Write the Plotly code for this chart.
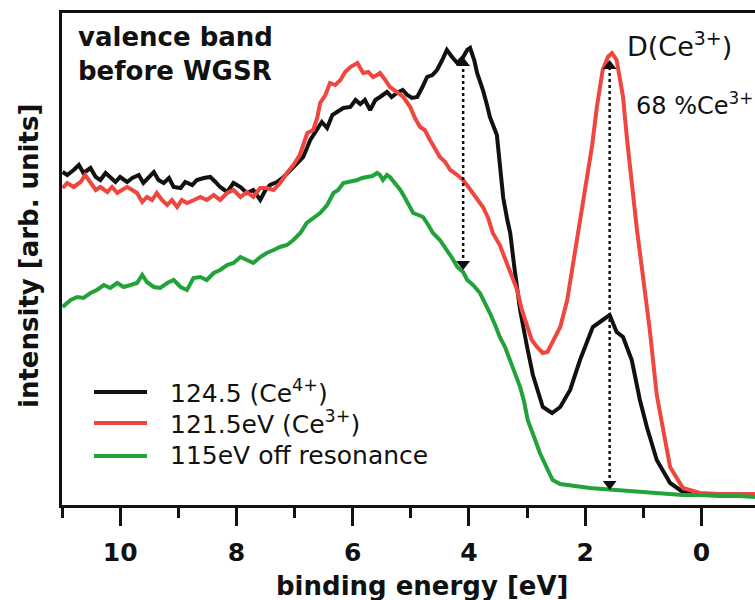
import plotly.graph_objects as go

# ---------------- data (binding energy in eV, intensity in arb. units) ----------------
black_energy = [10.99, 10.91, 10.80, 10.71, 10.63, 10.51, 10.42, 10.34, 10.25, 10.17, 10.08, 10.00,
                9.88, 9.79, 9.68, 9.60, 9.51, 9.42, 9.34, 9.25, 9.16, 9.08, 8.96, 8.88, 8.76, 8.68,
                8.56, 8.45, 8.36, 8.28, 8.16, 8.05, 7.93, 7.82, 7.71, 7.59, 7.50, 7.42, 7.30, 7.19,
                7.07, 6.96, 6.85, 6.73, 6.61, 6.53, 6.44, 6.35, 6.27, 6.16, 6.04, 5.95, 5.87, 5.79,
                5.70, 5.61, 5.53, 5.41, 5.33, 5.24, 5.14, 5.06, 4.98, 4.89, 4.80, 4.72, 4.63, 4.55,
                4.46, 4.38, 4.29, 4.20, 4.10, 4.03, 3.98, 3.91, 3.86, 3.76, 3.69, 3.64, 3.52, 3.47,
                3.41, 3.34, 3.29, 3.22, 3.12, 3.00, 2.90, 2.73, 2.57, 2.43, 2.26, 2.09, 1.87, 1.70,
                1.58, 1.46, 1.35, 1.20, 1.06, 0.94, 0.77, 0.54, 0.32, 0.03, -0.31, -0.66, -0.92]
black_intensity = [333, 330, 335, 340, 332, 337, 328, 325, 332, 328, 323, 328,
                   323, 327, 330, 322, 327, 333, 325, 322, 327, 318, 317, 323, 320, 325,
                   327, 328, 323, 318, 313, 322, 318, 312, 315, 305, 315, 320, 323, 328,
                   335, 342, 348, 365, 375, 383, 377, 390, 393, 397, 398, 405, 401, 405,
                   395, 405, 408, 413, 408, 412, 415, 410, 407, 408, 418, 428, 430, 435,
                   445, 455, 448, 442, 448, 455, 457, 445, 432, 415, 400, 388, 370, 342,
                   307, 285, 272, 238, 195, 158, 130, 98, 92, 98, 115, 145, 178, 185,
                   190, 173, 168, 145, 105, 78, 45, 22, 13, 11, 11, 10, 10]

red_energy = [10.99, 10.91, 10.80, 10.68, 10.60, 10.51, 10.42, 10.34, 10.22, 10.14, 10.05, 9.97,
              9.88, 9.79, 9.71, 9.62, 9.54, 9.45, 9.37, 9.28, 9.19, 9.11, 9.02, 8.94, 8.85, 8.73,
              8.62, 8.51, 8.39, 8.28, 8.16, 8.05, 7.93, 7.82, 7.71, 7.59, 7.48, 7.36, 7.25, 7.13,
              7.02, 6.91, 6.78, 6.68, 6.61, 6.56, 6.47, 6.39, 6.30, 6.21, 6.13, 6.04, 5.92, 5.87,
              5.82, 5.73, 5.65, 5.58, 5.53, 5.44, 5.36, 5.24, 5.13, 5.01, 4.93, 4.84, 4.76, 4.67,
              4.58, 4.50, 4.41, 4.32, 4.20, 4.10, 4.01, 3.93, 3.84, 3.76, 3.67, 3.59, 3.47, 3.35,
              3.26, 3.17, 3.09, 3.00, 2.92, 2.83, 2.73, 2.65, 2.55, 2.43, 2.31, 2.21, 2.09, 1.97,
              1.88, 1.80, 1.70, 1.61, 1.54, 1.46, 1.40, 1.35, 1.28, 1.18, 1.11, 1.01, 0.89, 0.77,
              0.66, 0.54, 0.32, 0.03, -0.31, -0.66, -0.92]
red_intensity = [317, 322, 318, 323, 330, 322, 315, 318, 313, 318, 312, 315,
                 318, 315, 312, 303, 308, 305, 312, 305, 300, 305, 298, 305, 302, 305,
                 308, 305, 310, 305, 312, 315, 308, 313, 308, 317, 317, 315, 322, 332,
                 340, 350, 372, 375, 387, 402, 410, 422, 420, 425, 433, 438, 442, 437,
                 432, 433, 428, 430, 432, 425, 418, 413, 408, 398, 387, 378, 375, 365,
                 355, 348, 343, 335, 330, 325, 318, 312, 305, 298, 287, 272, 260, 242,
                 230, 215, 195, 178, 165, 158, 152, 153, 165, 178, 205, 240, 285, 325,
                 360, 398, 435, 448, 452, 445, 425, 408, 365, 310, 275, 230, 175, 110,
                 75, 38, 17, 12, 11, 11, 11]

green_energy = [10.99, 10.85, 10.74, 10.63, 10.51, 10.40, 10.28, 10.17, 10.05, 9.94, 9.82, 9.71,
                9.62, 9.54, 9.42, 9.31, 9.19, 9.08, 8.96, 8.85, 8.74, 8.62, 8.51, 8.39, 8.28, 8.16,
                8.05, 7.93, 7.82, 7.71, 7.59, 7.48, 7.36, 7.25, 7.13, 7.02, 6.90, 6.79, 6.56, 6.44,
                6.33, 6.25, 6.16, 6.04, 5.92, 5.84, 5.75, 5.66, 5.58, 5.53, 5.48, 5.41, 5.36, 5.27,
                5.18, 5.10, 5.01, 4.96, 4.87, 4.79, 4.70, 4.62, 4.50, 4.38, 4.29, 4.20, 4.10, 4.03,
                3.93, 3.81, 3.72, 3.64, 3.55, 3.47, 3.38, 3.29, 3.21, 3.12, 3.05, 2.99, 2.88, 2.78,
                2.66, 2.56, 2.43, 2.31, 2.09, 1.92, 1.70, 1.46, 1.15, 0.89, 0.63, 0.32, 0.03, -0.31,
                -0.66, -0.92]
green_intensity = [198, 205, 208, 207, 212, 215, 220, 217, 222, 218, 220, 222,
                   230, 223, 218, 217, 222, 225, 218, 215, 227, 228, 225, 232, 235, 240,
                   242, 248, 245, 242, 248, 252, 255, 258, 260, 265, 272, 282, 292, 300,
                   312, 315, 322, 323, 325, 327, 328, 329, 332, 330, 325, 330, 328, 322,
                   315, 307, 298, 292, 290, 288, 280, 272, 265, 255, 247, 238, 233, 225,
                   220, 212, 202, 192, 180, 168, 158, 145, 133, 118, 103, 85, 68, 52,
                   37, 25, 21, 20, 18, 17, 16, 15, 14, 12, 11, 10, 10, 9,
                   9, 8]

series_names = ["124.5 (Ce<sup>4+</sup>)", "121.5eV (Ce<sup>3+</sup>)", "115eV off resonance"]
series_colors = ["#111111", "#ef4640", "#22a23a"]

# dotted double arrows (energy, upper tip, lower tip)
arrow_energy = [4.10, 1.58]
arrow_top = [448, 445]
arrow_bottom = [235, 15]

x_ticks = [0, 2, 4, 6, 8, 10]
x_range = [11.0, -0.92]
y_range = [0, 492]

# ---------------- layout geometry ----------------
W, H = 755, 600
ML, MR, MT, MB = 62, 0, 13, 95
PW, PH = W - ML - MR, H - MT - MB
px_per_unit = PH / (y_range[1] - y_range[0])


def pxx(px):
    return (px - ML) / PW


def pyy(py):
    return (H - MB - py) / PH


FONT = "DejaVu Sans"

fig = go.Figure()

for e, i, c, n in zip([black_energy, red_energy, green_energy],
                      [black_intensity, red_intensity, green_intensity],
                      series_colors, series_names):
    fig.add_trace(go.Scatter(x=e, y=i, mode="lines", name=n,
                             line=dict(color=c, width=4), showlegend=False))

# arrows
head = 12
for e, t, b in zip(arrow_energy, arrow_top, arrow_bottom):
    fig.add_trace(go.Scatter(x=[e, e], y=[b + head / 2 / px_per_unit, t - head / 2 / px_per_unit],
                             mode="lines", line=dict(color="#111111", width=2.5, dash="dot"),
                             showlegend=False, hoverinfo="skip"))
    fig.add_trace(go.Scatter(x=[e], y=[t - head / 2 / px_per_unit], mode="markers",
                             marker=dict(symbol="triangle-up", size=head, color="#111111"),
                             showlegend=False, hoverinfo="skip"))
    fig.add_trace(go.Scatter(x=[e], y=[b + head / 2 / px_per_unit], mode="markers",
                             marker=dict(symbol="triangle-down", size=head, color="#111111"),
                             showlegend=False, hoverinfo="skip"))

annotations = [
    dict(text="valence band<br>before WGSR", x=pxx(76), y=pyy(20), xanchor="left", yanchor="top",
         align="left", font=dict(family=FONT, size=26, color="#111111", weight="bold")),
    dict(text="D(Ce<sup>3+</sup>)", x=pxx(625), y=pyy(25), xanchor="left", yanchor="top",
         font=dict(family=FONT, size=27, color="#111111")),
    dict(text="68 %Ce<sup>3+</sup>", x=pxx(634), y=pyy(86), xanchor="left", yanchor="top",
         font=dict(family=FONT, size=24, color="#111111")),
    dict(text="binding energy [eV]", x=pxx(422), y=pyy(586), xanchor="center", yanchor="middle",
         font=dict(family=FONT, size=26, color="#111111", weight="bold")),
    dict(text="intensity [arb. units]", x=pxx(29), y=pyy(256), xanchor="center", yanchor="middle",
         textangle=-90, font=dict(family=FONT, size=26, color="#111111", weight="bold")),
]

shapes = []
legend_y = [392, 423, 456]
for n, c, ly in zip(series_names, series_colors, legend_y):
    shapes.append(dict(type="line", xref="paper", yref="paper", x0=pxx(94), x1=pxx(147),
                       y0=pyy(ly), y1=pyy(ly), line=dict(color=c, width=4)))
    annotations.append(dict(text=n, x=pxx(168), y=pyy(ly - 1), xanchor="left", yanchor="middle",
                            font=dict(family=FONT, size=25, color="#111111")))

for a in annotations:
    a.update(xref="paper", yref="paper", showarrow=False)

fig.update_layout(
    width=W, height=H,
    margin=dict(l=ML, r=MR, t=MT, b=MB, pad=0),
    paper_bgcolor="white", plot_bgcolor="white",
    annotations=annotations, shapes=shapes,
    font=dict(family=FONT, color="#111111"),
    xaxis=dict(range=x_range, tickvals=x_ticks, ticks="outside", ticklen=18, tickwidth=3,
               tickcolor="#111111", showline=True, linewidth=3, linecolor="#111111", mirror=True,
               showgrid=False, zeroline=False, ticklabelstandoff=5,
               tickfont=dict(family=FONT, size=25, color="#111111", weight="bold"),
               minor=dict(dtick=1, tick0=0, ticks="outside", ticklen=10, tickwidth=3,
                          tickcolor="#111111", showgrid=False)),
    yaxis=dict(range=y_range, showticklabels=False, ticks="", showline=True, linewidth=2.5,
               linecolor="#111111", mirror=False, showgrid=False, zeroline=False),
)

fig.write_html("out.html")
